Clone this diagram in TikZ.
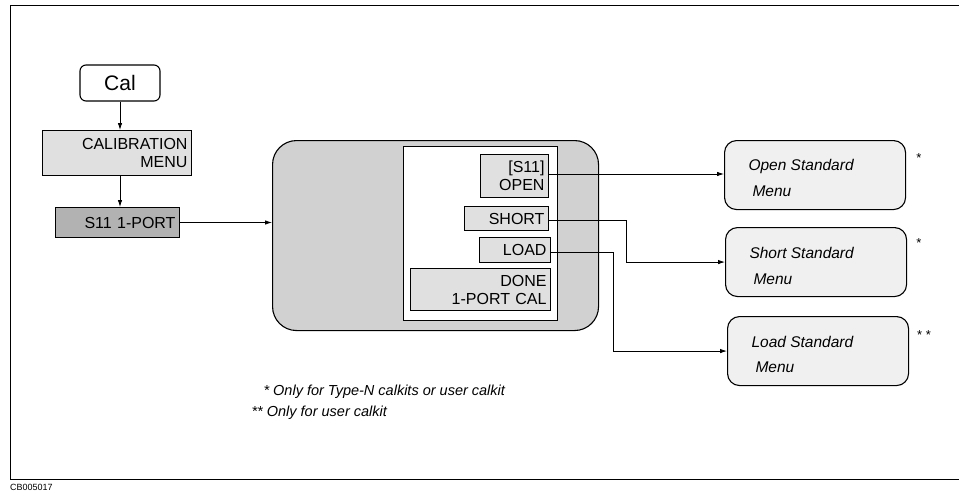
\documentclass[tikz,border=0pt]{standalone}
\usepackage{fontspec}
\setmainfont{Liberation Sans}
\usetikzlibrary{arrows.meta}
\tikzset{
  every node/.style={font=\fontsize{16}{18}\selectfont},
  keybox/.style={draw, line width=1pt, inner sep=3pt, align=right, anchor=north west},
  stdmenu/.style={draw, line width=1.1pt, rounded corners=12pt, fill=black!6, anchor=north west,
    minimum width=181pt, minimum height=69pt},
  conn/.style={line width=0.8pt, -{Latex[length=7pt,width=4.5pt]}},
  itxt/.style={font=\fontsize{15.5}{17}\selectfont\itshape, anchor=west},
  note/.style={font=\fontsize{14.5}{16}\selectfont\itshape, anchor=west},
}
\begin{document}
\begin{tikzpicture}[x=1pt,y=-1pt]
\useasboundingbox (0,0) rectangle (959,493);
% frame
\draw[line width=1pt] (959,5) -- (10,5) -- (10,479) -- (959,479);
\node[font=\fontsize{9}{10}\selectfont, anchor=west, inner sep=0pt] (code) at (10,487) {CB005017};

% left chain
\node[draw, line width=1.1pt, rounded corners=6pt, fill=white, minimum width=80pt, minimum height=36pt,
  font=\fontsize{21}{24}\selectfont] (cal) at (120,83) {Cal};
\node[keybox, fill=black!12, minimum width=149pt, minimum height=45pt, text width=141pt] (calmenu) at (42,130) {CALIBRATION\\MENU};
\node[keybox, fill=black!30, minimum width=124pt, minimum height=30pt, text width=116pt] (s11) at (55,207) {S11 1-PORT};
\draw[conn] (cal.south) -- (calmenu.north -| cal.south);
\draw[conn] (calmenu.south -| cal.south) -- (s11.north -| cal.south);

% big softkey panel
\node[draw, line width=1.1pt, fill=black!18, rounded corners=24pt, anchor=north west,
  minimum width=326pt, minimum height=190pt] (panel) at (272,140) {};
\node[draw, line width=1pt, fill=white, anchor=north west, minimum width=154pt, minimum height=174pt] (inner) at (403,146) {};
\draw[conn] (s11.east) -- (s11.east -| panel.west);

\node[keybox, fill=black!12, minimum width=68pt, minimum height=43pt, text width=60pt] (open) at (480,154) {[S11]\\OPEN};
\node[keybox, fill=black!12, minimum width=84pt, minimum height=24pt, text width=76pt, inner sep=2pt] (short) at (464,206) {SHORT};
\node[keybox, fill=black!12, minimum width=71pt, minimum height=25pt, text width=63pt, inner sep=2pt] (load) at (479,237) {LOAD};
\node[keybox, fill=black!12, minimum width=140pt, minimum height=42pt, text width=132pt] (done) at (410,268) {DONE\\1-PORT CAL};

% standard menus
\node[stdmenu] (openm) at (724,140) {};
\node[stdmenu] (shortm) at (725,227) {};
\node[stdmenu] (loadm) at (727,316) {};
\node[itxt] (openm1) at (745,166) {Open Standard};
\node[itxt] (openm2) at (749,191) {Menu};
\node[itxt] (shortm1) at (746,253) {Short Standard};
\node[itxt] (shortm2) at (750,279) {Menu};
\node[itxt] (loadm1) at (748,342) {Load Standard};
\node[itxt] (loadm2) at (752,367) {Menu};
\node[font=\fontsize{13}{14}\selectfont] (st1) at (919,158) {*};
\node[font=\fontsize{13}{14}\selectfont] (st2) at (919,243) {*};
\node[font=\fontsize{13}{14}\selectfont] (st3) at (924,335) {* *};

% connectors
\coordinate (sbend) at (626,220);
\coordinate (lbend) at (613,252);
\draw[conn] (open.east |- 0,174) -- (openm.west |- 0,174);
\draw[conn] (short.east |- sbend) -- (sbend) |- (shortm.west);
\draw[conn] (load.east |- lbend) -- (lbend) |- (loadm.west);

% notes
\node[note] (n1) at (260,392) {* Only for Type-N calkits or user calkit};
\node[note] (n2) at (248,413) {** Only for user calkit};
\end{tikzpicture}
\end{document}
